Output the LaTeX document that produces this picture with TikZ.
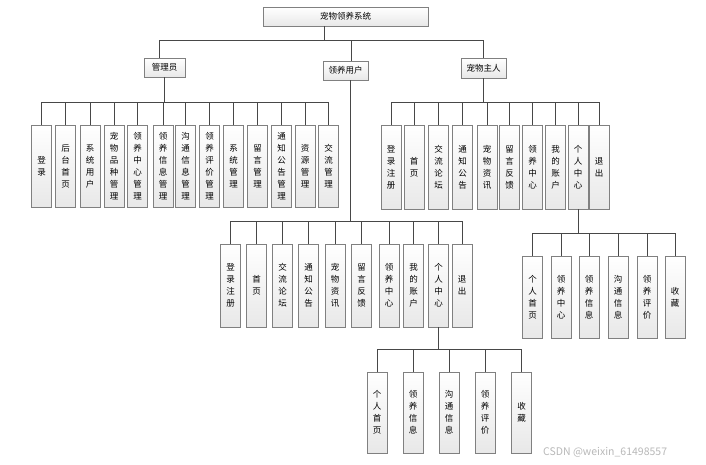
\documentclass[tikz,border=0pt]{standalone}
\usepackage{fontspec}
\newfontfamily\cjk{Noto Sans CJK SC}
\tikzset{
  box/.style={draw=black!50, line width=0.9pt, top color=white, bottom color=black!9,
    inner sep=0pt, font=\cjk\fontsize{8.5}{12}\selectfont, align=center},
  vbox/.style={box, minimum width=20pt},
  link/.style={draw=black!72, line width=0.8pt},
}
\begin{document}
\begin{tikzpicture}[x=1pt,y=-1pt]
\useasboundingbox (0,0) rectangle (706,465);
% bar levels
\coordinate (topbar) at (0,40);
\coordinate (abar) at (0,102);
\coordinate (obar) at (0,102);
\coordinate (ubar) at (0,221);
\coordinate (opbar) at (0,233);
\coordinate (upbar) at (0,349);

\node[box, minimum width=165pt, minimum height=19pt] (root) at (345.5,16.5) {宠物领养系统};
\node[box, minimum width=41pt, minimum height=19pt] (adm) at (164.5,67.5) {管理员};
\node[box, minimum width=45pt, minimum height=19pt] (usr) at (345.5,70.5) {领养用户};
\node[box, minimum width=45pt, minimum height=20pt] (own) at (483.5,68) {宠物主人};

\draw[link] ([xshift=-21.5pt]root.south) |- ([xshift=-5.5pt]adm.north |- topbar) -- ([xshift=-5.5pt]adm.north);
\draw[link] ([xshift=-21.5pt]root.south) |- ([xshift=5.5pt]usr.north |- topbar) -- ([xshift=5.5pt]usr.north);
\draw[link] ([xshift=-21.5pt]root.south) |- (own.north |- topbar) -- (own.north);

% administrator
\foreach \x/\t [count=\i] in {41.5/{登\\录}, 65.5/{后\\台\\首\\页}, 90/{系\\统\\用\\户},
  114/{宠\\物\\品\\种\\管\\理}, 137.5/{领\\养\\中\\心\\管\\理}, 163/{领\\养\\信\\息\\管\\理},
  185.5/{沟\\通\\信\\息\\管\\理}, 209.5/{领\\养\\评\\价\\管\\理}, 233.5/{系\\统\\管\\理},
  257.5/{留\\言\\管\\理}, 281.5/{通\\知\\公\\告\\管\\理}, 305/{资\\源\\管\\理}, 328.5/{交\\流\\管\\理}}{
  \node[vbox, minimum height=82pt] (a\i) at (\x,166) {\t};
  \draw[link] (adm.south) |- (a\i.north |- abar) -- (a\i.north);
}

% pet owner
\foreach \x/\t [count=\i] in {391/{登\\录\\注\\册}, 414/{首\\页}, 438.5/{交\\流\\论\\坛},
  462.5/{通\\知\\公\\告}, 487/{宠\\物\\资\\讯}, 509.5/{留\\言\\反\\馈}, 532.5/{领\\养\\中\\心},
  555.5/{我\\的\\账\\户}, 578/{个\\人\\中\\心}, 599/{退\\出}}{
  \node[vbox, minimum height=84pt] (o\i) at (\x,167) {\t};
  \draw[link] (own.south) |- (o\i.north |- obar) -- (o\i.north);
}

% adopter
\foreach \x/\t [count=\i] in {230.5/{登\\录\\注\\册}, 256.5/{首\\页}, 282.5/{交\\流\\论\\坛},
  308.5/{通\\知\\公\\告}, 335/{宠\\物\\资\\讯}, 361.5/{留\\言\\反\\馈}, 389/{领\\养\\中\\心},
  413.5/{我\\的\\账\\户}, 438.5/{个\\人\\中\\心}, 462/{退\\出}}{
  \node[vbox, minimum height=83pt] (u\i) at (\x,285.5) {\t};
  \draw[link] ([xshift=5pt]usr.south) |- (u\i.north |- ubar) -- (u\i.north);
}

% owner personal centre
\foreach \x/\t [count=\i] in {532.5/{个\\人\\首\\页}, 561/{领\\养\\中\\心}, 589/{领\\养\\信\\息},
  618/{沟\\通\\信\\息}, 647/{领\\养\\评\\价}, 675/{收\\藏}}{
  \node[vbox, minimum height=82pt] (op\i) at (\x,297) {\t};
  \draw[link] (o9.south) |- (op\i.north |- opbar) -- (op\i.north);
}

% adopter personal centre
\foreach \x/\t [count=\i] in {377/{个\\人\\首\\页}, 413/{领\\养\\信\\息}, 449/{沟\\通\\信\\息},
  485/{领\\养\\评\\价}, 521.5/{收\\藏}}{
  \node[vbox, minimum height=81pt] (up\i) at (\x,412.5) {\t};
  \draw[link] (u9.south) |- (up\i.north |- upbar) -- (up\i.north);
}

\node[anchor=west, text=black!28, inner sep=0pt, font=\cjk\fontsize{10.5}{12}\selectfont] (wm) at (543,452) {CSDN @weixin\_61498557};
\end{tikzpicture}
\end{document}
